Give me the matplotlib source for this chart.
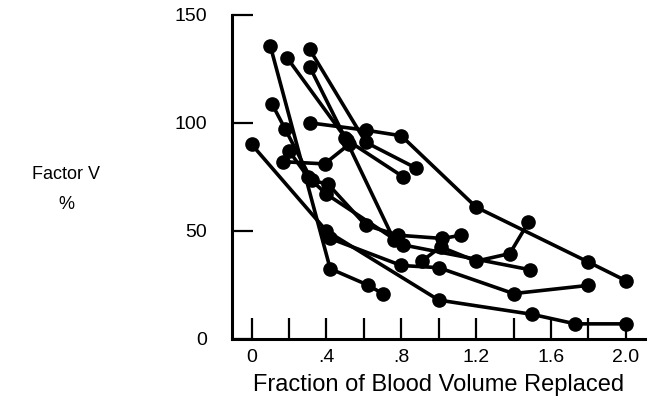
import matplotlib
matplotlib.use("Agg")
import matplotlib.pyplot as plt

plt.rcParams['font.family'] = ['Liberation Sans', 'DejaVu Sans']

# Fraction of blood volume replaced (x) and Factor V % (y), one pair per patient
s1_x = [0.0, 0.40, 1.00, 1.50, 1.73, 2.00]
s1_y = [90, 50, 18, 11.4, 7, 7]
s2_x = [0.10, 0.42, 0.62, 0.70]
s2_y = [135.5, 32.5, 25, 21]
s3_x = [0.31, 0.61, 0.80, 1.20, 1.80, 2.00]
s3_y = [100, 96.6, 94, 61, 35.6, 27]
s4_x = [0.31, 0.61, 0.88]
s4_y = [134, 91, 79]
s5_x = [0.19, 0.51, 0.81]
s5_y = [130, 92, 75]
s6_x = [0.31, 0.50, 0.76]
s6_y = [126, 93, 46]
s7_x = [0.11, 0.18, 0.32, 0.41, 0.61, 0.785, 1.02, 1.12]
s7_y = [108.5, 97, 73.5, 71.5, 52.6, 48, 46.5, 48]
s8_x = [0.17, 0.39, 0.52]
s8_y = [82, 81, 90]
s9_x = [0.20, 0.30, 0.40, 0.81, 1.49]
s9_y = [87, 75, 67, 43.5, 32]
s10_x = [0.42, 0.80, 1.00, 1.40, 1.80]
s10_y = [46.5, 34, 33, 21, 24.8]
s11_x = [0.91, 1.01, 1.20, 1.38, 1.48]
s11_y = [36, 42.6, 36, 39.5, 54]

series = [(s1_x, s1_y), (s2_x, s2_y), (s3_x, s3_y), (s4_x, s4_y),
          (s5_x, s5_y), (s6_x, s6_y), (s7_x, s7_y), (s8_x, s8_y),
          (s9_x, s9_y), (s10_x, s10_y), (s11_x, s11_y)]

x_ticks = [0, 0.2, 0.4, 0.6, 0.8, 1.0, 1.2, 1.4, 1.6, 1.8, 2.0]
x_labels = ['0', '', '.4', '', '.8', '', '1.2', '', '1.6', '', '2.0']
y_ticks = [0, 50, 100, 150]
y_labels = ['0', '50', '100', '150']

fig = plt.figure(figsize=(6.51, 4.04), dpi=100)
ax = fig.add_axes([0.3564, 0.1609, 0.6344, 0.8027])

for xs, ys in series:
    ax.plot(xs, ys, '-o', color='black', linewidth=2.6, markersize=9.5,
            clip_on=False)

ax.set_xlim(-0.105, 2.103)
ax.set_ylim(0, 150)
ax.spines['top'].set_visible(False)
ax.spines['right'].set_visible(False)
ax.spines['left'].set_linewidth(2.2)
ax.spines['bottom'].set_linewidth(2.2)

ax.set_xticks(x_ticks)
ax.set_xticklabels(x_labels, fontsize=14)
ax.set_yticks(y_ticks)
ax.set_yticklabels(y_labels, fontsize=14)
ax.tick_params(axis='x', direction='in', length=15, width=1.6, pad=7)
ax.tick_params(axis='y', direction='in', length=15, width=1.6, pad=18)

ax.set_xlabel('Fraction of Blood Volume Replaced', fontsize=17, labelpad=6)
fig.text(0.102, 0.567, 'Factor V', fontsize=13, ha='center', va='center')
fig.text(0.102, 0.493, '%', fontsize=13, ha='center', va='center')

plt.savefig('out.png', dpi=100)
